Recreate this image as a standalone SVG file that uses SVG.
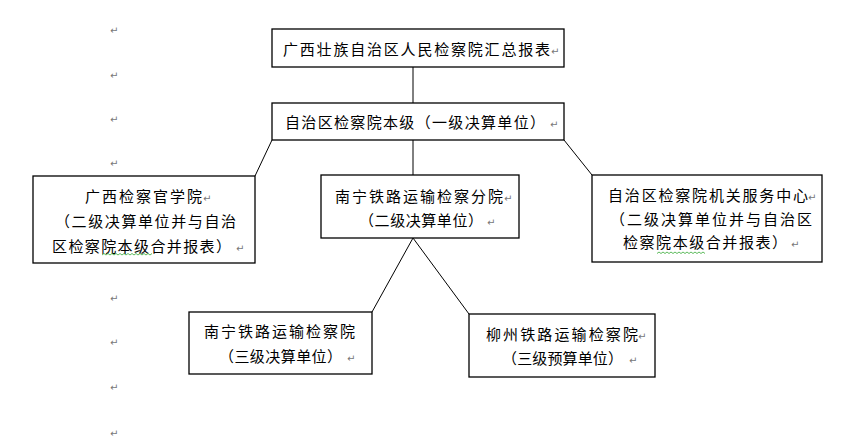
<svg xmlns="http://www.w3.org/2000/svg" width="858" height="448" viewBox="0 0 858 448">
<style>
.box{fill:#fff;stroke:#000;stroke-width:1.3}
.t{font-family:"Noto Sans CJK SC","Noto Sans CJK JP",sans-serif;font-size:15px;fill:#000}
.r{font-family:"DejaVu Sans",sans-serif;font-size:10px;fill:#777}
.c{stroke:#000;stroke-width:1;fill:none}
.sq{stroke:#3a3;stroke-width:0.8;fill:none}
</style>
<rect width="858" height="448" fill="#fff"/>
<g id="marks">
<text class="r" x="110" y="34">↵</text>
<text class="r" x="110" y="79">↵</text>
<text class="r" x="110" y="123">↵</text>
<text class="r" x="110" y="167">↵</text>
<text class="r" x="110" y="302">↵</text>
<text class="r" x="110" y="346">↵</text>
<text class="r" x="110" y="391">↵</text>
<text class="r" x="110" y="437">↵</text>
</g>
<g id="connectors">
<line class="c" x1="413" y1="67" x2="413" y2="103"/>
<line class="c" x1="272" y1="140" x2="255" y2="176"/>
<line class="c" x1="413" y1="140" x2="413" y2="175"/>
<line class="c" x1="564" y1="140" x2="592" y2="175"/>
<line class="c" x1="413" y1="238" x2="372" y2="312"/>
<line class="c" x1="413" y1="238" x2="469" y2="314"/>
</g>
<g id="n1">
<rect class="box" x="272" y="29" width="292" height="38"/>
<text class="t" x="283" y="55" textLength="267" lengthAdjust="spacing">广西壮族自治区人民检察院汇总报表</text>
<text class="r" x="551" y="55">↵</text>
</g>
<g id="n2">
<rect class="box" x="272" y="103" width="292" height="37"/>
<text class="t" x="285" y="128" textLength="260" lengthAdjust="spacing">自治区检察院本级（一级决算单位）</text>
<text class="r" x="550" y="128">↵</text>
</g>
<g id="n3">
<rect class="box" x="33" y="176" width="222" height="87"/>
<text class="t" x="85" y="202" textLength="117" lengthAdjust="spacing">广西检察官学院</text>
<text class="r" x="203" y="202">↵</text>
<text class="t" x="55" y="227" textLength="181" lengthAdjust="spacing">（二级决算单位并与自治</text>
<text class="t" x="52" y="252" textLength="179" lengthAdjust="spacing">区检察院本级合并报表）</text>
<text class="r" x="236" y="252">↵</text>
<path class="sq" d="M102 255 l2 -1.5 l2 1.5 l2 -1.5 l2 1.5 l2 -1.5 l2 1.5 l2 -1.5 l2 1.5 l2 -1.5 l2 1.5 l2 -1.5 l2 1.5 l2 -1.5 l2 1.5 l2 -1.5 l2 1.5 l2 -1.5 l2 1.5 l2 -1.5 l2 1.5 l2 -1.5 l2 1.5 l2 -1.5 l2 1.5 l2 -1.5"/>
</g>
<g id="n4">
<rect class="box" x="321" y="175" width="198" height="63"/>
<text class="t" x="335" y="202" textLength="168" lengthAdjust="spacing">南宁铁路运输检察分院</text>
<text class="r" x="504" y="202">↵</text>
<text class="t" x="359" y="226" textLength="124" lengthAdjust="spacing">（二级决算单位）</text>
<text class="r" x="487" y="226">↵</text>
</g>
<g id="n5">
<rect class="box" x="592" y="175" width="230" height="87"/>
<text class="t" x="608" y="201" textLength="200" lengthAdjust="spacing">自治区检察院机关服务中心</text>
<text class="r" x="808" y="201">↵</text>
<text class="t" x="610" y="225" textLength="202" lengthAdjust="spacing">（二级决算单位并与自治区</text>
<text class="t" x="623" y="248" textLength="164" lengthAdjust="spacing">检察院本级合并报表）</text>
<text class="r" x="791" y="248">↵</text>
<path class="sq" d="M657 253.5 l2 -1.5 l2 1.5 l2 -1.5 l2 1.5 l2 -1.5 l2 1.5 l2 -1.5 l2 1.5 l2 -1.5 l2 1.5 l2 -1.5 l2 1.5 l2 -1.5 l2 1.5 l2 -1.5 l2 1.5 l2 -1.5 l2 1.5 l2 -1.5 l2 1.5 l2 -1.5 l2 1.5 l2 -1.5 l2 1.5"/>
</g>
<g id="n6">
<rect class="box" x="189" y="312" width="183" height="62"/>
<text class="t" x="204" y="337" textLength="151" lengthAdjust="spacing">南宁铁路运输检察院</text>
<text class="t" x="219" y="362" textLength="123" lengthAdjust="spacing">（三级决算单位）</text>
<text class="r" x="347" y="362">↵</text>
</g>
<g id="n7">
<rect class="box" x="469" y="314" width="186" height="63"/>
<text class="t" x="486" y="340" textLength="152" lengthAdjust="spacing">柳州铁路运输检察院</text>
<text class="r" x="638" y="340">↵</text>
<text class="t" x="502" y="364" textLength="121" lengthAdjust="spacing">（三级预算单位）</text>
<text class="r" x="629" y="364">↵</text>
</g>
</svg>
